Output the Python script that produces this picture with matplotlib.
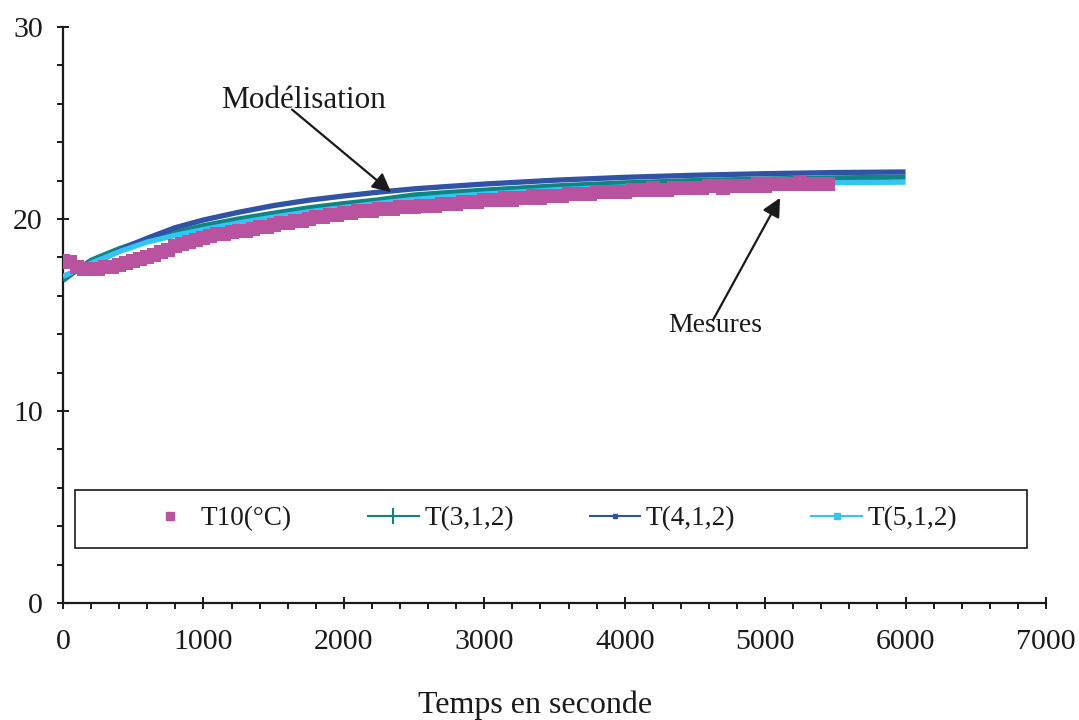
import numpy as np
import matplotlib
matplotlib.use("Agg")
import matplotlib.pyplot as plt
from matplotlib.lines import Line2D
from matplotlib.patches import Rectangle
from matplotlib.ticker import MultipleLocator

plt.rcParams['font.family'] = ['Liberation Serif', 'DejaVu Serif']

# ---- data ----
t_meas = list(range(0, 5451, 50))
T10 = [17.8, 17.75, 17.5, 17.4, 17.4, 17.4, 17.5, 17.5, 17.6, 17.7,
       17.8, 17.9, 18.0, 18.1, 18.3, 18.4, 18.6, 18.7, 18.8, 18.9,
       19.0, 19.1, 19.2, 19.2, 19.3, 19.4, 19.4, 19.5, 19.6, 19.6,
       19.7, 19.8, 19.8, 19.9, 19.9, 20.0, 20.1, 20.1, 20.2, 20.2,
       20.3, 20.3, 20.4, 20.4, 20.4, 20.5, 20.5, 20.5, 20.6, 20.6,
       20.6, 20.7, 20.7, 20.7, 20.8, 20.8, 20.8, 20.9, 20.9, 20.9,
       21.0, 21.0, 21.0, 21.1, 21.0, 21.1, 21.1, 21.2, 21.1, 21.2,
       21.2, 21.2, 21.3, 21.3, 21.3, 21.3, 21.4, 21.4, 21.4, 21.4,
       21.4, 21.5, 21.5, 21.5, 21.6, 21.5, 21.5, 21.6, 21.6, 21.6,
       21.6, 21.6, 21.7, 21.7, 21.6, 21.7, 21.7, 21.7, 21.7, 21.8,
       21.7, 21.8, 21.8, 21.8, 21.8, 21.9, 21.8, 21.8, 21.8, 21.8]

t_model = [0, 100, 200, 300, 400, 500, 600, 800, 1000, 1250, 1500, 1750,
           2000, 2250, 2500, 2750, 3000, 3500, 4000, 4500, 5000, 5500, 6000]
T312 = [16.8, 17.35, 17.85, 18.15, 18.45, 18.7, 18.9, 19.3, 19.65, 20.0,
        20.3, 20.58, 20.8, 21.0, 21.25, 21.38, 21.5, 21.72, 21.88, 22.0,
        22.08, 22.14, 22.18]
T412 = [17.0, 17.3, 17.6, 17.97, 18.35, 18.7, 19.0, 19.55, 19.95, 20.35,
        20.7, 20.98, 21.2, 21.4, 21.57, 21.7, 21.82, 22.02, 22.17, 22.28,
        22.36, 22.42, 22.45]
T512 = [17.0, 17.35, 17.7, 18.0, 18.3, 18.55, 18.8, 19.15, 19.45, 19.8,
        20.1, 20.38, 20.6, 20.82, 21.02, 21.17, 21.3, 21.52, 21.67, 21.77,
        21.84, 21.89, 21.92]

labels = ['T10(°C)', 'T(3,1,2)', 'T(4,1,2)', 'T(5,1,2)']
c_meas = '#B9529F'
c3 = '#0E8582'
c4 = '#3153A5'
c5 = '#33C6F2'

fig = plt.figure(figsize=(10.79, 7.2), dpi=100)
ax = fig.add_axes([63/1079, 1-603/720, (1046-63)/1079, (603-27)/720])

ax.plot(t_model, T312, color=c3, lw=3.8, solid_capstyle='butt',
        solid_joinstyle='round', zorder=3)
ax.plot(t_model, T412, color=c4, lw=3.8, solid_capstyle='butt',
        solid_joinstyle='round', zorder=4)
ax.plot(t_model, T512, color=c5, lw=3.8, solid_capstyle='butt',
        solid_joinstyle='round', zorder=5)
ax.plot(t_meas, T10, ls='none', marker='s', markersize=10.5, color=c_meas,
        mec=c_meas, mew=0, zorder=6)

ax.set_xlim(0, 7000)
ax.set_ylim(0, 30)
ax.xaxis.set_major_locator(MultipleLocator(1000))
ax.xaxis.set_minor_locator(MultipleLocator(200))
ax.yaxis.set_major_locator(MultipleLocator(10))
ax.yaxis.set_minor_locator(MultipleLocator(2))
for s in ['top', 'right']:
    ax.spines[s].set_visible(False)
for s in ['left', 'bottom']:
    ax.spines[s].set_linewidth(1.6)
    ax.spines[s].set_color('#1a1a1a')
ax.tick_params(axis='both', which='major', direction='inout', length=9,
               width=1.4, labelsize=21.5, colors='#1a1a1a')
ax.tick_params(axis='both', which='minor', direction='out', length=4.5,
               width=1.4, colors='#1a1a1a')
ax.tick_params(axis='x', which='major', pad=14)
ax.tick_params(axis='y', which='major', pad=10)

ax.set_xlabel('Temps en seconde', fontsize=23, color='#1a1a1a')
ax.xaxis.label.set_va('center')
ax.xaxis.set_label_coords((535-63)/983, (603-705)/576)

# annotations
ax.text(1713, 26.15, 'Modélisation', fontsize=22.5, ha='center', va='center',
        color='#1a1a1a')
ax.annotate('', xy=(2336, 21.4), xytext=(1631, 25.7),
            arrowprops=dict(arrowstyle='-|>', mutation_scale=28, lw=1.6,
                            color='#1a1a1a', shrinkA=0, shrinkB=0), zorder=8)
ax.text(4646, 14.43, 'Mesures', fontsize=20, ha='center', va='center',
        color='#1a1a1a')
ax.annotate('', xy=(5106, 21.1), xytext=(4629, 14.74),
            arrowprops=dict(arrowstyle='-|>', mutation_scale=28, lw=1.6,
                            color='#1a1a1a', shrinkA=0, shrinkB=0), zorder=8)

# legend box
ax.add_patch(Rectangle(((75-63)/983, (603-548)/576), (1027-75)/983, 58/576,
                       transform=ax.transAxes, facecolor='white',
                       edgecolor='#1a1a1a', lw=1.2, zorder=9))
handles = [
    Line2D([], [], ls='none', marker='s', markersize=6, color=c_meas),
    Line2D([], [], color=c3, lw=1.5, marker='+', markersize=11, mew=1.5),
    Line2D([], [], color=c4, lw=1.5, marker='s', markersize=3.5),
    Line2D([], [], color=c5, lw=1.5, marker='s', markersize=4),
]
leg = ax.legend(handles, labels, ncol=4, frameon=False, loc='center',
                bbox_to_anchor=((551-63)/983, (603-519)/576),
                fontsize=19.6, handlelength=1.85, handletextpad=0.2,
                columnspacing=2.8)
leg.set_zorder(10)
for txt in leg.get_texts():
    txt.set_color('#1a1a1a')

fig.savefig('out.png', dpi=100)
